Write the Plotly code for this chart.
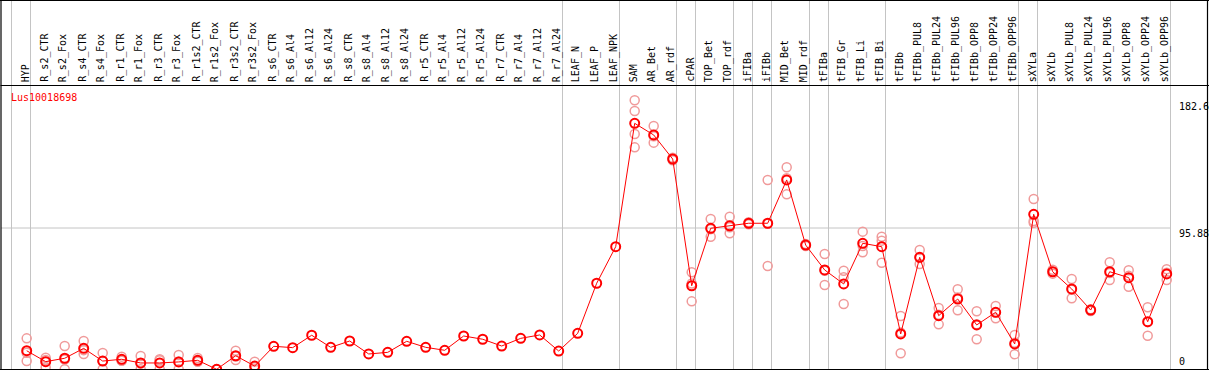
import plotly.graph_objects as go

W, H = 1209, 370

categories = ["HYP", "R_s2_CTR", "R_s2_Fox", "R_s4_CTR", "R_s4_Fox", "R_r1_CTR", "R_r1_Fox",
              "R_r3_CTR", "R_r3_Fox", "R_r1s2_CTR", "R_r1s2_Fox", "R_r3s2_CTR", "R_r3s2_Fox",
              "R_s6_CTR", "R_s6_Al4", "R_s6_Al12", "R_s6_Al24", "R_s8_CTR", "R_s8_Al4", "R_s8_Al12",
              "R_s8_Al24", "R_r5_CTR", "R_r5_Al4", "R_r5_Al12", "R_r5_Al24", "R_r7_CTR", "R_r7_Al4",
              "R_r7_Al12", "R_r7_Al24", "LEAF_N", "LEAF_P", "LEAF_NPK", "SAM", "AR_Bet", "AR_rdf",
              "cPAR", "TOP_Bet", "TOP_rdf", "iFIBa", "iFIBb", "MID_Bet", "MID_rdf", "tFIBa",
              "tFIB_Gr", "tFIB_Li", "tFIB_Bi", "tFIBb", "tFIBb_PUL8", "tFIBb_PUL24", "tFIBb_PUL96",
              "tFIBb_OPP8", "tFIBb_OPP24", "tFIBb_OPP96", "sXYLa", "sXYLb", "sXYLb_PUL8",
              "sXYLb_PUL24", "sXYLb_PUL96", "sXYLb_OPP8", "sXYLb_OPP24", "sXYLb_OPP96"]

means = [12.6, 5.2, 7.5, 14.2, 5.6, 6.8, 4.3, 4.3, 5.0, 6.1, 0.0, 9.2, 2.2,
         15.6, 14.7, 23.1, 14.9, 19.2, 10.4, 11.5, 19.0, 14.9, 12.9, 22.6, 20.4, 15.8, 21.0,
         23.3, 12.4, 24.4, 58.4, 83.2, 166.9, 159.0, 142.7, 56.7, 95.7, 97.4, 99.1, 99.1,
         128.5, 84.3, 67.4, 57.9, 85.5, 83.2, 24.0, 76.0, 36.4, 47.7, 30.1, 38.7, 17.2,
         105.2, 66.2, 54.5, 40.2, 66.2, 62.2, 32.3, 64.7]

replicates = [
    [21.0, 11.2, 5.6], [7.9, 1.4, 6.3], [15.8, 0.0, 6.7], [19.2, 10.4, 13.0], [11.1, 0.0, 5.7],
    [8.6, 6.0, 5.8], [9.0, 0.0, 3.9], [6.8, 0.0, 6.1], [9.7, 0.0, 5.3], [7.7, 5.5, 5.1],
    [0.0, 0.0, 0.0], [12.6, 6.3, 8.7], [5.2, 0.0, 1.4],
    [], [], [], [], [], [], [], [], [], [], [], [], [], [], [], [], [], [], [],
    [182.6, 175.3, 159.7, 150.6], [165.1, 153.8, 158.1], [143.5, 142.7, 141.9],
    [65.8, 46.1, 58.2], [102.0, 90.0, 95.1], [103.5, 92.3, 96.4], [99.8, 99.1, 98.4],
    [128.5, 70.1, 98.7], [137.1, 118.7, 129.7], [85.0, 84.3, 83.6], [78.2, 57.2, 66.8],
    [66.9, 44.3, 62.5], [93.4, 79.4, 83.7], [90.0, 72.3, 87.3], [36.2, 10.9, 24.9],
    [81.0, 71.5, 75.5], [41.6, 30.5, 37.1], [54.3, 40.0, 48.8], [39.4, 20.4, 30.5],
    [43.0, 34.6, 38.5], [23.3, 10.2, 18.1], [115.6, 100.6, 99.4], [67.5, 66.2, 64.9],
    [61.3, 48.2, 54.0], [40.8, 40.2, 39.6], [72.6, 60.6, 65.4], [67.2, 56.0, 63.4],
    [42.1, 22.8, 32.0], [67.9, 60.6, 65.6],
]

group_ends = [-1, 0, 28, 31, 34, 35, 37, 38, 39, 41, 42, 45, 52, 53, 60]
ytick_vals = [182.6, 95.88, 0]
ytick_text = ["182.6", "95.88", "0"]
gene = "Lus10018698"

# pixel geometry
X0, DX = 26.7, 19.0
Y0, KY = 369.3, 1.4737
xr = [(0 - X0) / DX, (W - X0) / DX]
yr = [(Y0 - H) / KY, Y0 / KY]

fig = go.Figure()

rx, ry = [], []
for i, reps in enumerate(replicates):
    for v in reps:
        rx.append(i)
        ry.append(v)

fig.add_trace(go.Scatter(x=rx, y=ry, mode="markers",
                         marker=dict(symbol="circle-open", size=9, color="#f09a9a",
                                     line=dict(width=1.5, color="#f09a9a")),
                         hoverinfo="skip"))
fig.add_trace(go.Scatter(x=list(range(len(categories))), y=means, mode="lines+markers",
                         line=dict(color="#ff0000", width=1),
                         marker=dict(symbol="circle-open", size=9, color="#ff0000",
                                     line=dict(width=2, color="#ff0000"))))

def px(xp):
    return xp / W

def py(yp):
    return 1 - yp / H

shapes = []
for g in group_ends:
    xg = X0 + DX * (g + 0.2)
    shapes.append(dict(type="line", xref="paper", yref="paper", x0=px(xg), x1=px(xg),
                       y0=0, y1=1, line=dict(color="#c4c4c4", width=1), layer="below"))
xlast = X0 + DX * (group_ends[-1] + 0.2)
shapes.append(dict(type="line", xref="paper", yref="y", x0=px(1), x1=px(xlast),
                   y0=ytick_vals[1], y1=ytick_vals[1], line=dict(color="#c4c4c4", width=1),
                   layer="below"))
# frame and separator
for (a, b, c, d) in [(0.5, 85.5, W, 85.5), (1, 0, 1, H), (W - 1.5, 0, W - 1.5, H),
                     (0, 0.5, W, 0.5), (0, 369.5, W, 369.5)]:
    shapes.append(dict(type="line", xref="paper", yref="paper", x0=px(a), x1=px(c),
                       y0=py(b), y1=py(d), line=dict(color="#000000", width=1.2)))

annotations = []
mono = "DejaVu Sans Mono"
for i, c in enumerate(categories):
    annotations.append(dict(x=i - 0.08, y=py(84), xref="x", yref="paper", text=c,
                            textangle=-90, showarrow=False, xanchor="center", yanchor="bottom",
                            font=dict(family=mono, size=10, color="#000000")))
ycent = {"182.6": 107, "95.88": 233, "0": 361.5}
for t in ytick_text:
    annotations.append(dict(x=px(1177), y=py(ycent[t]), xref="paper", yref="paper", text=t,
                            showarrow=False, xanchor="left", yanchor="middle",
                            font=dict(family=mono, size=10, color="#000000")))
annotations.append(dict(x=px(8.5), y=py(97), xref="paper", yref="paper", text=gene,
                        showarrow=False, xanchor="left", yanchor="middle",
                        font=dict(family=mono, size=10, color="#ff0000")))

fig.update_layout(width=W, height=H, margin=dict(l=0, r=0, t=0, b=0),
                  paper_bgcolor="white", plot_bgcolor="white", showlegend=False,
                  xaxis=dict(range=xr, visible=False, fixedrange=True),
                  yaxis=dict(range=yr, visible=False, fixedrange=True),
                  shapes=shapes, annotations=annotations)

fig.write_html("out.html", config={"displayModeBar": False},
               post_script="document.body.style.margin='0';document.body.style.overflow='hidden';")
